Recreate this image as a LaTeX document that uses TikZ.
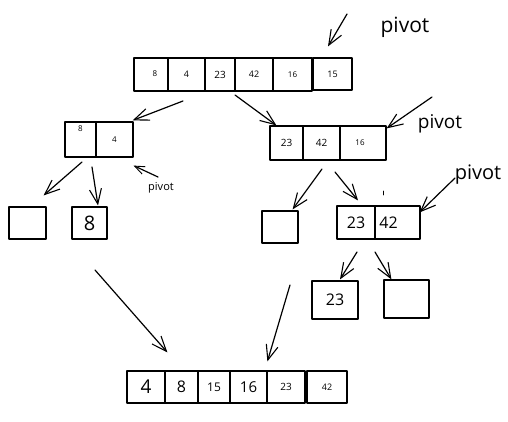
\documentclass[tikz,border=0pt]{standalone}
\usepackage{fontspec}
\setmainfont{Open Sans}
\usetikzlibrary{arrows.meta}
\newcommand\fsz[1]{\fontsize{#1}{#1}\selectfont}
\begin{document}
\begin{tikzpicture}[x=1pt,y=-1pt,line width=1.2pt,line join=round,line cap=round,
  cell/.style={draw,inner sep=0pt},
  sk/.style={-{Straight Barb[length=15pt,width=12pt,line width=1.1pt]}},
  sks/.style={-{Straight Barb[length=10pt,width=8pt,line width=0.9pt]}},
  lbl/.style={inner sep=0pt}]
\useasboundingbox (0,0) rectangle (508,421);
% top array
\node[cell,minimum width=34pt,minimum height=33pt,font=\fsz{8}] (t1) at (151,74.5) {\hspace*{8pt}\raisebox{2pt}{8}};
\node[cell,minimum width=37pt,minimum height=33pt,font=\fsz{9}] (t2) at (186.5,74.5) {4};
\node[cell,minimum width=30pt,minimum height=33pt,font=\fsz{10}] (t3) at (220,74.5) {23};
\node[cell,minimum width=38pt,minimum height=33pt,font=\fsz{9}] (t4) at (254,74.5) {42};
\node[cell,minimum width=39pt,minimum height=33pt,font=\fsz{8}] (t5) at (292.5,74.5) {16};
\node[cell,minimum width=39pt,minimum height=32pt,font=\fsz{9}] (t6) at (332.5,74) {15};
\node[lbl,font=\fsz{21}] (pv1) at (405,27) {pivot};
\coordinate (pt0) at (347,14);
\draw[sk] (pt0) -- ([shift={(-4.5pt,11pt)}]t6.north);
% left box
\node[cell,minimum width=31pt,minimum height=35pt,font=\fsz{8}] (l1) at (80.5,139.5) {\raisebox{8pt}[0pt][0pt]{8}};
\node[cell,minimum width=37pt,minimum height=35pt,font=\fsz{8}] (l2) at (114.5,139.5) {4};
\coordinate (a1) at (183,101);
\draw[sk] (a1) -- ([shift={(-1pt,1pt)}]l2.north east);
\node[lbl,font=\fsz{11}] (pv3) at (161,188) {pivot};
\coordinate (a6) at (158,177);
\draw[sks] (a6) -- ([yshift=-8pt]l2.south east);
% left small boxes
\node[cell,minimum width=37pt,minimum height=32pt] (e1) at (27.5,223) {};
\node[cell,minimum width=35pt,minimum height=32pt,font=\fsz{20}] (e2) at (89.5,223) {8};
\coordinate (a3) at (82,162);
\draw[sk] (a3) -- ([shift={(-3pt,11pt)}]e1.north east);
\coordinate (a4) at (92,167);
\draw[sk] (a4) -- ([shift={(8.5pt,1pt)}]e2.north);
% right box
\node[cell,minimum width=33pt,minimum height=34pt,font=\fsz{10}] (r1) at (286.5,143) {23};
\node[cell,minimum width=37pt,minimum height=34pt,font=\fsz{10}] (r2) at (321.5,143) {42};
\node[cell,minimum width=46pt,minimum height=34pt,font=\fsz{8}] (r3) at (363,143) {16\hspace*{6pt}};
\coordinate (a2) at (235,95);
\draw[sk] (a2) -- ([xshift=7pt]r1.north west);
\node[lbl,font=\fsz{19}] (pv2) at (440,124) {pivot};
\coordinate (a5) at (432,97);
\draw[sk] (a5) -- ([yshift=-3pt]r3.north east);
% middle row right
\node[cell,minimum width=36pt,minimum height=32pt] (e3) at (280,227) {};
\node[cell,minimum width=38pt,minimum height=33pt,font=\fsz{16}] (m1) at (356,222.5) {23};
\node[cell,minimum width=45pt,minimum height=33pt,font=\fsz{16}] (m2) at (397.5,222.5) {42\hspace*{18pt}};
\coordinate (a7) at (322,169);
\draw[sk] (a7) -- ([shift={(-6pt,1pt)}]e3.north east);
\coordinate (a8) at (335,172);
\draw[sk] (a8) -- ([shift={(2pt,5pt)}]m1.north);
\draw[line width=0.6pt] (383,191) -- (383,195);
\node[lbl,font=\fsz{20}] (pv4) at (478,175) {pivot};
\coordinate (a9) at (455,178);
\draw[sk] (a9) -- ([shift={(-1pt,-7pt)}]m2.north east);
% bottom row right
\node[cell,minimum width=46pt,minimum height=38pt,font=\fsz{16}] (b1) at (335,300) {23};
\node[cell,minimum width=45pt,minimum height=38pt] (b2) at (406.5,299) {};
\coordinate (a10) at (357,252);
\draw[sk] (a10) -- ([shift={(5pt,1pt)}]b1.north);
\coordinate (a11) at (375,252);
\draw[sk] (a11) -- ([xshift=8pt]b2.north west);
% result array
\node[cell,minimum width=38pt,minimum height=32pt,font=\fsz{19}] (s1) at (146,387) {4};
\node[cell,minimum width=33pt,minimum height=32pt,font=\fsz{16}] (s2) at (181.5,387) {8};
\node[cell,minimum width=32pt,minimum height=32pt,font=\fsz{12}] (s3) at (214,387) {15};
\node[cell,minimum width=37pt,minimum height=32pt,font=\fsz{15}] (s4) at (248.5,387) {16};
\node[cell,minimum width=38pt,minimum height=32pt,font=\fsz{10}] (s5) at (286,387) {23};
\node[cell,minimum width=40pt,minimum height=32pt,font=\fsz{9}] (s6) at (327,387) {42};
\coordinate (a12) at (95,270);
\draw[sk] (a12) -- ([shift={(3pt,18pt)}]s2.north west);
\coordinate (a13) at (290,285);
\draw[sk] (a13) -- ([shift={(1pt,9pt)}]s5.north west);
\end{tikzpicture}
\end{document}
